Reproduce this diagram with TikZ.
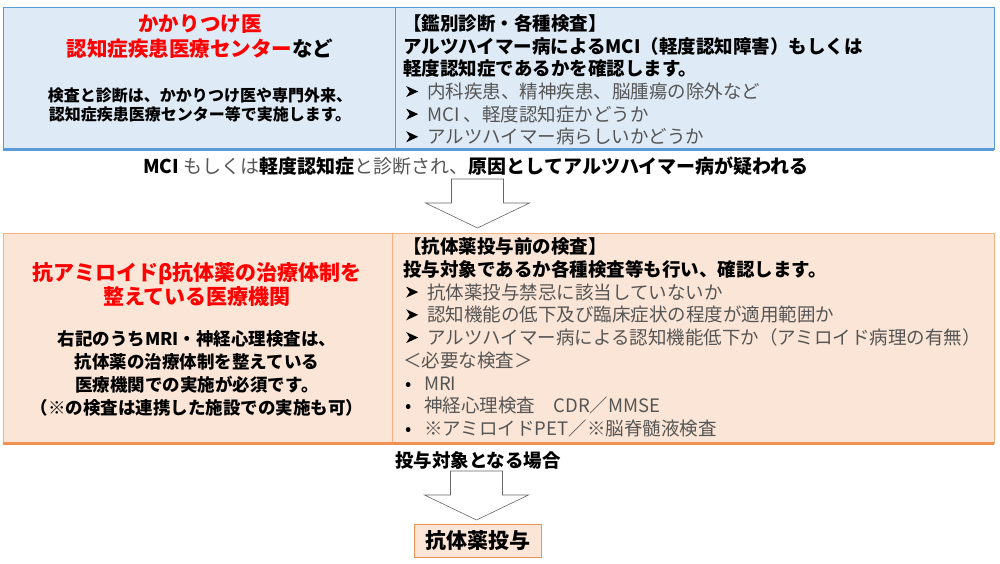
\documentclass[tikz,border=0pt]{standalone}
\usepackage{fontspec}
\setmainfont{Noto Sans CJK JP}
\usetikzlibrary{positioning}
\definecolor{cellblue}{RGB}{222,235,247}
\definecolor{lineblue}{RGB}{91,155,213}
\definecolor{cellpeach}{RGB}{251,229,214}
\definecolor{lineorange}{RGB}{244,177,131}
\definecolor{edgeorange}{RGB}{237,125,49}
\definecolor{textgray}{RGB}{85,85,85}
\newcommand{\arrowitem}{\makebox[24pt][l]{\hspace{3pt}\tikz[baseline=-1.5pt, x=1pt, y=1pt]{\fill[black] (0,0) -- (12,5.5) -- (0,11) -- (3.5,5.5) -- cycle;}}}
\newcommand{\dotitem}{\makebox[21pt][l]{\hspace{2pt}{\color{black}•}}}
\newcommand{\fsize}[2]{\fontsize{#1}{#2}\selectfont}

\begin{document}
\begin{tikzpicture}[x=1pt,y=-1pt,
    bluecell/.style={draw=lineblue, fill=cellblue, line width=0.8pt, inner sep=0pt},
    peachcell/.style={draw=lineorange, fill=cellpeach, line width=0.8pt, inner sep=0pt},
    blocktext/.style={inner sep=0pt, align=left, anchor=north west},
    bigarrow/.pic={\draw[black!60, line width=0.6pt, fill=white]
        (-26,0) -- (26,0) -- (26,24) -- (52,24) -- (0,49) -- (-52,24) -- (-26,24) -- cycle;}]
    \useasboundingbox (0,0) rectangle (1000,563);
    % top stage
    \node[bluecell, minimum width=392, minimum height=142] (gpcell) at (199,78) {};
    \node[bluecell, minimum width=599, minimum height=142] (diagcell) at (694.5,78) {};
    \draw[lineblue, line width=2.6pt] (gpcell.south west) -- (diagcell.south east);
    \node[align=center, text=red, font=\bfseries\fsize{20.5}{25}] (gptitle) at (200,37)
        {かかりつけ医\\認知症疾患医療センター{\color{black}など}};
    \node[align=center, font=\bfseries\fsize{16}{18.5}] (gpnote) at (200,105)
        {検査と診断は、かかりつけ医や専門外来、\\認知症疾患医療センター等で実施します。};
    \node[blocktext, font=\fsize{18.5}{22.6}] (diagtext) at (403,14.5) {
        {\bfseries 【鑑別診断・各種検査】}\\
        {\bfseries アルツハイマー病によるMCI（軽度認知障害）もしくは}\\
        {\bfseries 軽度認知症であるかを確認します。}\\
        {\color{textgray}\arrowitem 内科疾患、精神疾患、脳腫瘍の除外など}\\
        {\color{textgray}\arrowitem MCI 、軽度認知症かどうか}\\
        {\color{textgray}\arrowitem アルツハイマー病らしいかどうか}
    };
    % transition 1
    \node[font=\fsize{19}{22}] (suspect) at (476,166) {\textbf{MCI} {\color{textgray}もしくは}\textbf{軽度認知症}{\color{textgray}と診断され、}\textbf{原因としてアルツハイマー病が疑われる}};
    \pic at (477.5,179) {bigarrow};
    % middle stage
    \node[peachcell, minimum width=389, minimum height=210] (hospcell) at (197.5,338) {};
    \node[peachcell, minimum width=602, minimum height=210] (precell) at (693,338) {};
    \draw[edgeorange!85, line width=2.6pt] (hospcell.south west) -- (precell.south east);
    \node[align=center, text=red, font=\bfseries\fsize{21}{24}] (hosptitle) at (197,285)
        {抗アミロイドβ抗体薬の治療体制を\\整えている医療機関};
    \node[align=center, font=\bfseries\fsize{17.5}{23}] (hospnote) at (197,373)
        {右記のうちMRI・神経心理検査は、\\抗体薬の治療体制を整えている\\医療機関での実施が必須です。\\（※の検査は連携した施設での実施も可）};
    \node[blocktext, font=\fsize{18.5}{22.75}] (pretext) at (403,237.5) {
        {\bfseries 【抗体薬投与前の検査】}\\
        {\bfseries 投与対象であるか各種検査等も行い、確認します。}\\
        {\color{textgray}\arrowitem 抗体薬投与禁忌に該当していないか}\\
        {\color{textgray}\arrowitem 認知機能の低下及び臨床症状の程度が適用範囲か}\\
        {\color{textgray}\arrowitem アルツハイマー病による認知機能低下か（アミロイド病理の有無）}\\
        {\color{textgray}＜必要な検査＞}\\
        {\color{textgray}\dotitem MRI}\\
        {\color{textgray}\dotitem 神経心理検査　CDR／MMSE}\\
        {\color{textgray}\dotitem ※アミロイドPET／※脳脊髄液検査}
    };
    % transition 2
    \node[font=\bfseries\fsize{18.5}{22}] (eligible) at (478,460) {投与対象となる場合};
    \pic at (476.5,471) {bigarrow};
    % final stage
    \node[draw=edgeorange!85, fill=cellpeach, line width=0.8pt, minimum width=127, minimum height=33,
        inner sep=0pt, font=\bfseries\fsize{21}{24}] (dosing) at (477.5,540.5) {抗体薬投与};
\end{tikzpicture}
\end{document}
